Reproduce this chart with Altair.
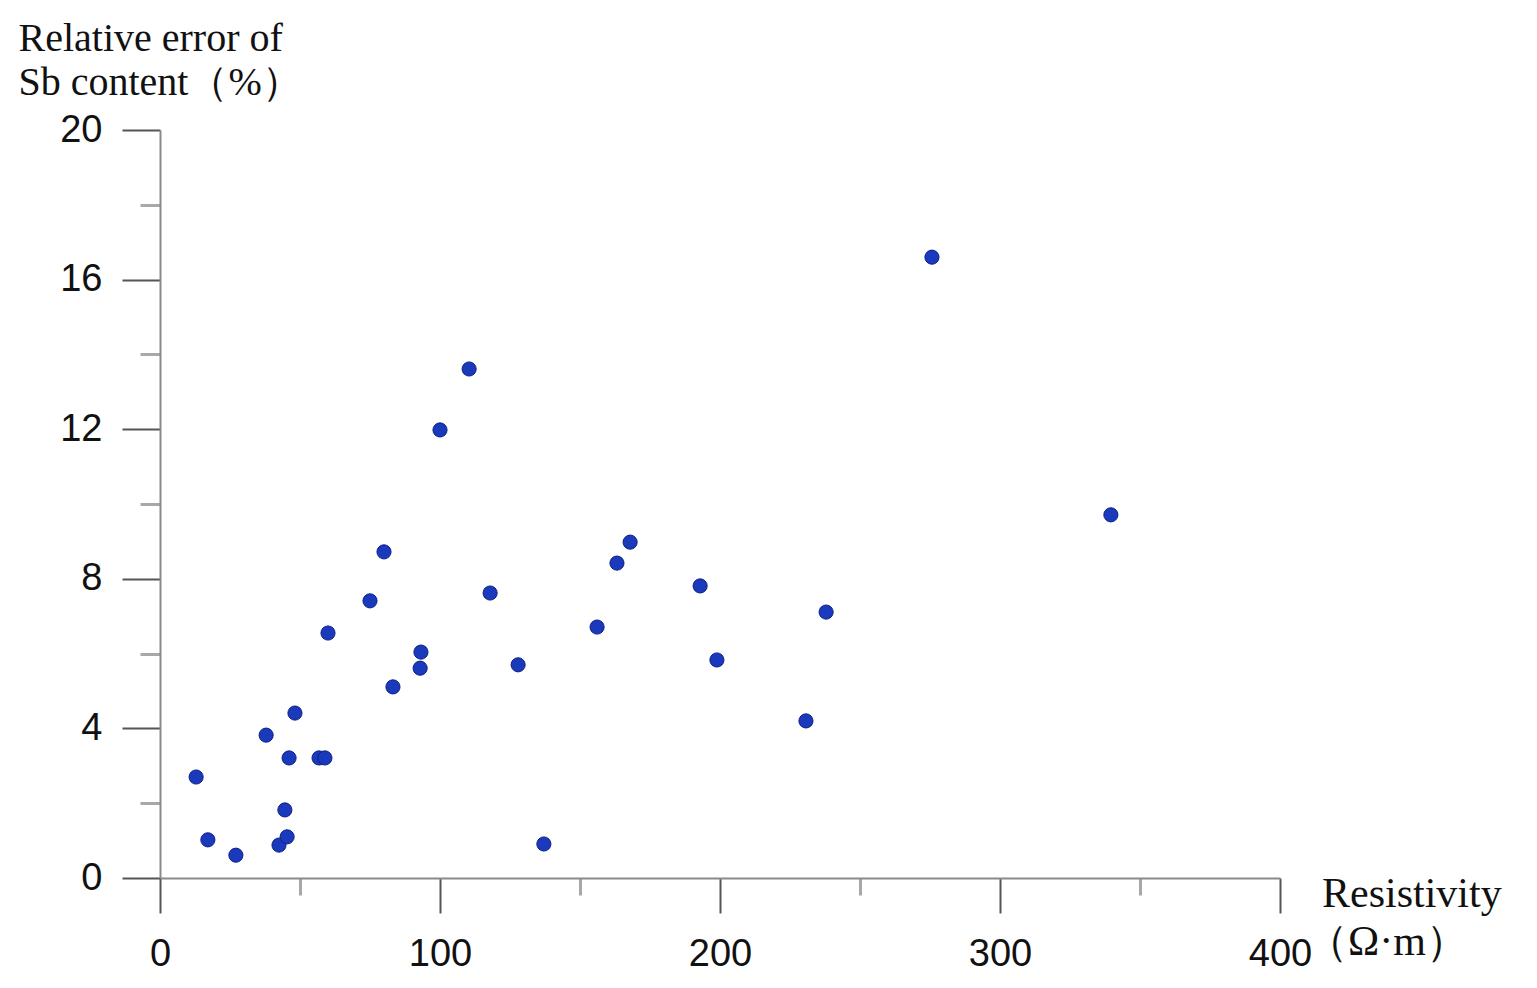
import altair as alt
import pandas as pd

resistivity = [12.9, 17.1, 27.1, 37.9, 42.5, 45.4, 44.6, 46.1, 48.2, 56.8, 58.9,
               60.0, 75.0, 80.0, 83.2, 93.2, 92.9, 100.0, 110.4, 117.9, 127.9,
               137.1, 156.1, 163.2, 167.9, 192.9, 198.9, 230.7, 237.9, 275.7, 339.6]
rel_error = [2.70, 1.02, 0.61, 3.82, 0.88, 1.10, 1.82, 3.21, 4.41, 3.21, 3.21,
             6.55, 7.41, 8.72, 5.11, 6.04, 5.61, 11.98, 13.61, 7.62, 5.70,
             0.91, 6.71, 8.42, 8.98, 7.81, 5.83, 4.20, 7.11, 16.60, 9.71]

x_major = [0, 100, 200, 300, 400]
x_minor = [50, 150, 250, 350]
y_major = [0, 4, 8, 12, 16, 20]
y_minor = [2, 6, 10, 14, 18]

x_title_lines = ["Resistivity", "（Ω·m）"]
y_title_lines = ["Relative error of", "Sb content（%）"]

df = pd.DataFrame({"r": resistivity, "e": rel_error})

xscale = alt.Scale(domain=[0, 400], nice=False, zero=True)
yscale = alt.Scale(domain=[0, 20], nice=False, zero=True)

label_font = "Liberation Sans"
title_font = "Liberation Serif"

points = alt.Chart(df).mark_circle(
    size=200, color="#1b39bb", opacity=1, stroke="#0d1f8a", strokeWidth=1
).encode(
    x=alt.X("r:Q", scale=xscale, axis=alt.Axis(
        orient="bottom",
        values=x_major, tickSize=35, tickWidth=2, tickColor="#555555",
        domainColor="#8a8a8a", domainWidth=2, grid=False,
        labelFont=label_font, labelFontSize=38, labelColor="#111111",
        labelPadding=22, labelFlush=False, labelOverlap=False,
        title=None)),
    y=alt.Y("e:Q", scale=yscale, axis=alt.Axis(
        orient="left",
        values=y_major, tickSize=38, tickWidth=2, tickColor="#555555",
        domainColor="#8a8a8a", domainWidth=2, grid=False,
        labelFont=label_font, labelFontSize=38, labelColor="#111111",
        labelPadding=20, labelFlush=False, labelOverlap=False,
        title=y_title_lines, titleFont=title_font,
        titleFontSize=40, titleFontWeight="normal", titleColor="#111111",
        titleAngle=0, titleAlign="left", titleAnchor="start",
        titleBaseline="alphabetic", titleX=-142, titleY=-80, titleLineHeight=44)),
)

minor_x = alt.Chart(pd.DataFrame({"r": x_minor})).mark_point(opacity=0).encode(
    x=alt.X("r:Q", scale=xscale, axis=alt.Axis(
        orient="bottom",
        values=x_minor, tickSize=17, tickWidth=3, tickColor="#a8a8a8",
        labels=False, domain=False, grid=False, title=None)),
)
minor_y = alt.Chart(pd.DataFrame({"e": y_minor})).mark_point(opacity=0).encode(
    y=alt.Y("e:Q", scale=yscale, axis=alt.Axis(
        orient="left",
        values=y_minor, tickSize=20, tickWidth=3, tickColor="#a8a8a8",
        labels=False, domain=False, grid=False, title=None)),
)

xt_style = dict(font=title_font, fontSize=42, color="#111111", align="left",
                baseline="alphabetic")
x_title1 = alt.Chart(pd.DataFrame({"t": [x_title_lines[0]]})).mark_text(**xt_style).encode(
    text="t:N", x=alt.value(1162), y=alt.value(748 + 29))
x_title2 = alt.Chart(pd.DataFrame({"t": [x_title_lines[1]]})).mark_text(**xt_style).encode(
    text="t:N", x=alt.value(1146), y=alt.value(748 + 77))

chart = alt.layer(minor_x, minor_y, points, x_title1, x_title2).resolve_axis(
    x="independent", y="independent"
).properties(
    width=1120, height=748,
    autosize=alt.AutoSizeParams(type="none"),
    padding={"left": 152, "top": 122, "right": 240, "bottom": 105},
    background="white",
).configure_view(stroke=None)

chart.save("out.html", embed_options={"renderer": "svg", "actions": False})
